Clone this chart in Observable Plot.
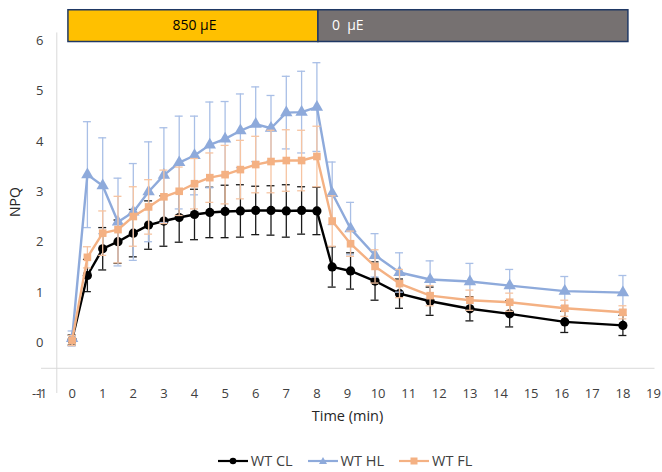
<!DOCTYPE html>
<html>
<head>
<meta charset="utf-8">
<script src="https://cdn.jsdelivr.net/npm/d3@7"></script>
<script src="https://cdn.jsdelivr.net/npm/@observablehq/plot@0.6"></script>
<style>
  body { margin: 0; background: #fff; font-family: "Open Sans", sans-serif; }
  #wrap { position: relative; width: 662px; height: 472px; }
  #legend { position: absolute; left: 0; top: 453px; width: 662px; display: flex; justify-content: center; gap: 15px; font-size: 14.5px; color: #404040; padding-left: 28px; box-sizing: border-box; line-height: 16px; }
  #legend .item { display: flex; align-items: center; gap: 3px; }
</style>
</head>
<body>
<div id="wrap"><div id="chart"></div><div id="legend"></div></div>
<script>
const times = [0,0.5,1,1.5,2,2.5,3,3.5,4,4.5,5,5.5,6,6.5,7,7.5,8,8.5,9.1,9.9,10.7,11.7,13,14.3,16.1,18];
const wtCL = [0.06,1.34,1.87,2.01,2.18,2.34,2.42,2.49,2.55,2.59,2.61,2.62,2.63,2.63,2.62,2.63,2.62,1.51,1.43,1.23,0.98,0.83,0.68,0.58,0.42,0.35];
const wtCLerr = [0.1,0.32,0.42,0.43,0.47,0.48,0.5,0.49,0.5,0.5,0.52,0.52,0.48,0.49,0.52,0.47,0.47,0.4,0.36,0.38,0.29,0.28,0.24,0.26,0.21,0.2];
const wtHL = [0.09,3.34,3.12,2.40,2.60,3.0,3.33,3.58,3.72,3.93,4.05,4.21,4.34,4.26,4.57,4.58,4.68,2.97,2.27,1.74,1.40,1.26,1.22,1.14,1.03,1.0];
const wtHLerr = [0.15,1.05,0.95,0.87,0.96,0.99,0.94,0.92,0.78,0.85,0.74,0.73,0.74,0.65,0.72,0.81,0.88,0.62,0.52,0.43,0.39,0.37,0.36,0.32,0.29,0.34];
const wtFL = [0.05,1.70,2.18,2.25,2.51,2.70,2.90,3.01,3.16,3.28,3.34,3.44,3.54,3.60,3.62,3.62,3.70,2.42,1.97,1.52,1.18,0.94,0.85,0.81,0.69,0.61];
const wtFLerr = [0.1,0.21,0.44,0.66,0.59,0.54,0.53,0.48,0.5,0.49,0.58,0.58,0.56,0.62,0.61,0.6,0.6,0.5,0.25,0.33,0.28,0.2,0.2,0.18,0.16,0.13];
const seriesNames = ["WT CL","WT HL","WT FL"];
const xTicks = d3.range(-1, 20);
const yTicks = d3.range(-1, 7);
const lightPhase = [{label: "850 µE", start: 0, end: 8}];
const darkPhase = [{label: "0  µE", start: 8, end: 18}];

const styles = {
  "WT CL": {color: "#000000", err: "#1a1a1a", symbol: "circle", r: 4.6},
  "WT HL": {color: "#8eaadb", err: "#a9bfe6", symbol: "triangle", r: 4.6},
  "WT FL": {color: "#f4b183", err: "#f6c4a2", symbol: "square", r: 4.3}
};

const values = {"WT CL": [wtCL, wtCLerr], "WT HL": [wtHL, wtHLerr], "WT FL": [wtFL, wtFLerr]};
const rows = [];
for (const s of seriesNames) {
  const [v, e] = values[s];
  times.forEach((t, i) => rows.push({series: s, t, v: v[i], e: e[i]}));
}

const font = 13;
const marks = [
  Plot.ruleY([-0.5], {x1: -1, x2: 19.05, stroke: "#d9d9d9", strokeWidth: 1}),
  Plot.ruleX([-0.5], {y1: -1, y2: 6.15, stroke: "#d9d9d9", strokeWidth: 1}),
  Plot.text(yTicks, {x: -1, y: d => d, text: d => String(d), textAnchor: "end", dx: 2, fontSize: font, fill: "#404040"}),
  Plot.text(xTicks, {x: d => d, y: -1, text: d => String(d), fontSize: font, fill: "#404040"}),
  Plot.text(["Time (min)"], {frameAnchor: "bottom", dy: 27, fontSize: 14.5, fill: "#262626"}),
  Plot.text(["NPQ"], {frameAnchor: "left", dx: -26, rotate: -90, fontSize: 14, fill: "#262626"}),
  Plot.rect(lightPhase, {x1: d => d.start - 0.12, x2: d => d.end + 0.05, y1: 5.97, y2: 6.6,
    fill: "#ffc000", stroke: "#1f3864", strokeWidth: 1.5}),
  Plot.rect(darkPhase, {x1: d => d.start + 0.05, x2: d => d.end + 0.18, y1: 5.97, y2: 6.6,
    fill: "#767171", stroke: "#1f3864", strokeWidth: 1.5}),
  Plot.text(lightPhase, {x: d => (d.start + d.end) / 2, y: 6.3, text: "label", fill: "#000", fontSize: 14}),
  Plot.text(darkPhase, {x: "start", y: 6.3, text: "label", textAnchor: "start", dx: 15, fill: "#fff", fontSize: 14})
];

for (const s of seriesNames) {
  const st = styles[s];
  const data = rows.filter(d => d.series === s);
  marks.push(
    Plot.ruleX(data, {x: "t", y1: d => d.v - d.e, y2: d => d.v + d.e, stroke: st.err, strokeWidth: 1.3}),
    Plot.ruleY(data, {y: d => d.v + d.e, x1: d => d.t - 0.13, x2: d => d.t + 0.13, stroke: st.err, strokeWidth: 1.3}),
    Plot.ruleY(data, {y: d => d.v - d.e, x1: d => d.t - 0.13, x2: d => d.t + 0.13, stroke: st.err, strokeWidth: 1.3}),
    Plot.line(data, {x: "t", y: "v", stroke: st.color, strokeWidth: 2.4}),
    Plot.dot(data, {x: "t", y: "v", symbol: () => st.symbol, r: st.r, fill: st.color, stroke: "none"})
  );
}

const chart = Plot.plot({
  width: 662,
  height: 472,
  marginLeft: 41,
  marginRight: 9,
  marginTop: 40,
  marginBottom: 79,
  x: {domain: [-1, 19], axis: null},
  y: {domain: [-1, 6], axis: null},
  symbol: {type: "identity"},
  style: {fontFamily: "'Open Sans', sans-serif", background: "#fff", overflow: "visible"},
  marks
});
document.getElementById("chart").appendChild(chart);

// legend
const legend = document.getElementById("legend");
for (const s of seriesNames) {
  const st = styles[s];
  const item = document.createElement("div");
  item.className = "item";
  const sym = st.symbol === "circle"
    ? `<circle cx="15" cy="7" r="3.3" fill="${st.color}"/>`
    : st.symbol === "triangle"
    ? `<path d="M15,3 L19,10 L11,10 Z" fill="${st.color}"/>`
    : `<rect x="11.5" y="3.5" width="7" height="7" fill="${st.color}"/>`;
  item.innerHTML = `<svg width="30" height="14"><line x1="0" x2="30" y1="7" y2="7" stroke="${st.color}" stroke-width="2.2"/>${sym}</svg><span>${s}</span>`;
  legend.appendChild(item);
}
</script>
</body>
</html>
